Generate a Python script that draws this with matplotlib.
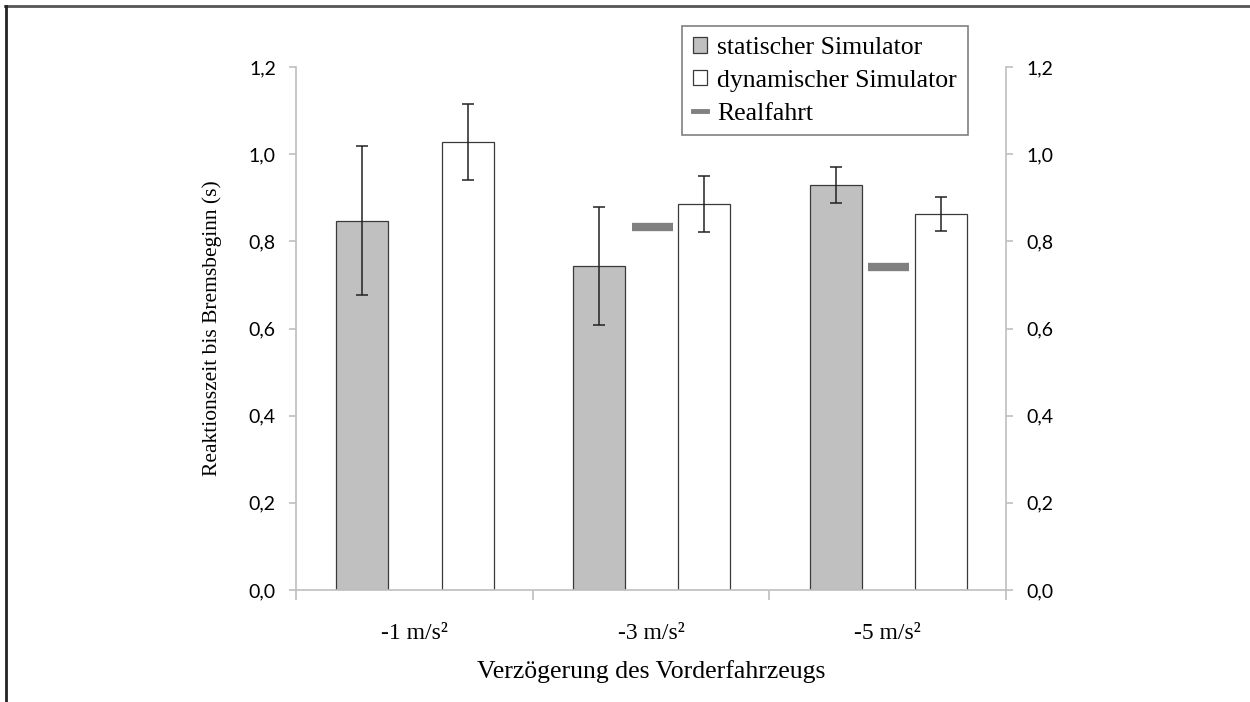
import matplotlib
matplotlib.use("Agg")
import matplotlib.pyplot as plt
from matplotlib.lines import Line2D
from matplotlib.patches import Patch
from matplotlib.ticker import FuncFormatter
import numpy as np

# Reaktionszeiten je Verzögerungsstufe
categories = ["-1 m/s²", "-3 m/s²", "-5 m/s²"]
static_mean = [0.847, 0.743, 0.930]
static_err = [0.171, 0.136, 0.041]
dynamic_mean = [1.028, 0.885, 0.863]
dynamic_err = [0.087, 0.064, 0.039]
real_mean = [np.nan, 0.832, 0.740]

serif = ["Liberation Serif", "DejaVu Serif"]
sans = ["Lato", "DejaVu Sans"]

fig = plt.figure(figsize=(12.5, 7.02), dpi=100)
ax = fig.add_axes([0.2368, 0.1595, 0.568, 0.7451])

x = np.arange(len(categories))
w = 0.22
ax.bar(x - 0.22, static_mean, w, color="#c0c0c0", edgecolor="#3a3a3a", linewidth=0.9, zorder=2)
ax.bar(x + 0.225, dynamic_mean, w, color="white", edgecolor="#3a3a3a", linewidth=0.9, zorder=2)
ax.errorbar(x - 0.22, static_mean, yerr=static_err, fmt="none", ecolor="#222222",
            elinewidth=1.1, capsize=4.3, capthick=1.1, zorder=3)
ax.errorbar(x + 0.225, dynamic_mean, yerr=dynamic_err, fmt="none", ecolor="#222222",
            elinewidth=1.1, capsize=4.3, capthick=1.1, zorder=3)
# Realfahrt als kurzer Balken zwischen den Simulatoren
ax.errorbar(x + 0.005, real_mean, xerr=0.086, fmt="none", ecolor="#808080",
            elinewidth=6, capsize=0, zorder=3)

ax.set_xlim(-0.5, 2.5)
ax.set_ylim(0, 1.2)
ax.set_yticks(np.arange(0, 1.21, 0.2))
ax.yaxis.set_major_formatter(FuncFormatter(lambda v, p: f"{v:.1f}".replace(".", ",")))

ax.set_xticks([-0.5, 0.5, 1.5, 2.5])
ax.set_xticklabels([])
ax.set_xticks(x, minor=True)
ax.set_xticklabels(categories, minor=True, fontfamily=serif, fontsize=17)
ax.tick_params(axis="x", which="major", length=7, color="#bfbfbf", width=1.2)
ax.tick_params(axis="x", which="minor", length=0, pad=24)
ax.tick_params(axis="y", left=True, right=True, labelleft=True, labelright=True,
               length=5, width=1.2, color="#bfbfbf", labelsize=14, pad=9.5)
for lbl in ax.get_yticklabels():
    lbl.set_fontfamily(sans)

for side in ["left", "right", "bottom"]:
    ax.spines[side].set_color("#bfbfbf")
    ax.spines[side].set_linewidth(1.2)
ax.spines["top"].set_visible(False)

ax.set_ylabel("Reaktionszeit bis Bremsbeginn (s)", fontfamily=serif, fontsize=15.5, labelpad=19)
ax.set_xlabel("Verzögerung des Vorderfahrzeugs", fontfamily=serif, fontsize=18.5, labelpad=11)

handles = [Patch(facecolor="#c0c0c0", edgecolor="#3a3a3a", linewidth=0.9),
           Patch(facecolor="white", edgecolor="#3a3a3a", linewidth=0.9),
           Line2D([0], [0], color="#808080", lw=3.5)]
leg = ax.legend(handles, ["statischer Simulator", "dynamischer Simulator", "Realfahrt"],
                loc="upper left", bbox_to_anchor=(0.5437, 1.078), borderaxespad=0,
                frameon=True, fancybox=False,
                prop={"family": serif, "size": 18.5}, handlelength=0.55, handleheight=0.55,
                handletextpad=0.4, labelspacing=0.42, borderpad=0.42)
leg.get_frame().set_edgecolor("#606060")
leg.get_frame().set_linewidth(1.2)

# Rahmenlinien oben und links
fig.add_artist(Line2D([0.004, 1.0], [0.9915, 0.9915], color="#555555", lw=2))
fig.add_artist(Line2D([0.0045, 0.0045], [0.0, 0.9915], color="#222222", lw=2))

fig.savefig("out.png", dpi=100)
